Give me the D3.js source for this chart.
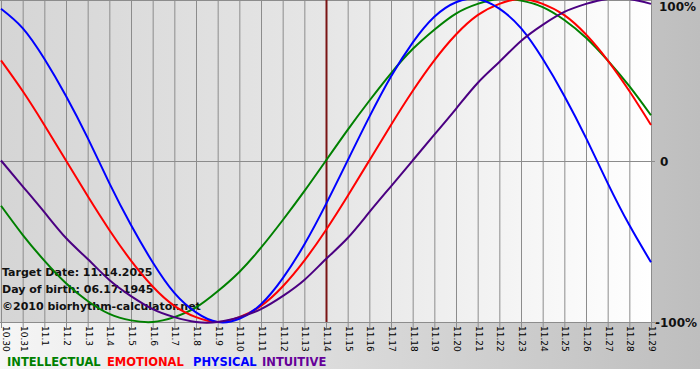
<!DOCTYPE html>
<html>
<head>
<meta charset="utf-8">
<script src="https://cdn.jsdelivr.net/npm/d3@7"></script>
<style>
  body { margin: 0; background: #ffffff; }
  svg { display: block; font-family: "DejaVu Sans", Verdana, sans-serif; }
</style>
</head>
<body>
<div id="chart"></div>
<script>
// days shown on the x axis
const days = ['10.30','10.31','11.1','11.2','11.3','11.4','11.5','11.6','11.7','11.8','11.9','11.10',
              '11.11','11.12','11.13','11.14','11.15','11.16','11.17','11.18','11.19','11.20','11.21',
              '11.22','11.23','11.24','11.25','11.26','11.27','11.28','11.29'];

// cycle values per day, -1 .. 1
const intellectual = [-0.28,-0.46,-0.62,-0.76,-0.87,-0.95,-0.99,-1.00,-0.97,-0.91,-0.81,-0.69,-0.54,-0.37,-0.19,
                      0.00,0.19,0.37,0.54,0.69,0.81,0.91,0.97,1.00,0.99,0.95,0.87,0.76,0.62,0.46,0.28];
const emotional = [0.62,0.43,0.22,0.00,-0.22,-0.43,-0.62,-0.78,-0.90,-0.97,-1.00,-0.97,-0.90,-0.78,-0.62,
                   -0.43,-0.22,0.00,0.22,0.43,0.62,0.78,0.90,0.97,1.00,0.97,0.90,0.78,0.62,0.43,0.22];
const physical = [0.94,0.82,0.63,0.40,0.14,-0.14,-0.40,-0.63,-0.82,-0.94,-1.00,-0.98,-0.89,-0.73,-0.52,
                  -0.27,0.00,0.27,0.52,0.73,0.89,0.98,1.00,0.94,0.82,0.63,0.40,0.14,-0.14,-0.40,-0.63];
const intuitive = [0.00,-0.16,-0.32,-0.48,-0.61,-0.74,-0.84,-0.92,-0.97,-1.00,-1.00,-0.97,-0.92,-0.84,-0.74,
                   -0.61,-0.48,-0.32,-0.16,0.00,0.16,0.32,0.48,0.61,0.74,0.84,0.92,0.97,1.00,1.00,0.97];

const seriesNames = ['INTELLECTUAL','EMOTIONAL','PHYSICAL','INTUITIVE'];
const seriesColors = ['#008000','#ff0000','#0000ff','#4b0082'];
const legendColors = ['#008000','#ff0000','#0000ff','#660099'];
const targetDay = '11.14';
const yTicks = [1, 0, -1];
const yTickLabels = ['100%','0','-100%'];
const infoLines = ['Target Date: 11.14.2025','Day of birth: 06.17.1945','\u00a92010 biorhythm-calculator.net'];

const width = 700, height = 380;
const plotLeft = 1, plotRight = 651, plotTop = -1, plotBottom = 322;

const svg = d3.select('#chart').append('svg')
    .attr('width', width)
    .attr('height', height);

const defs = svg.append('defs');

// outer frame: light on the left, grey on the right
const outerGrad = defs.append('linearGradient').attr('id','outerGrad')
    .attr('x1','0%').attr('x2','100%').attr('y1','0%').attr('y2','0%');
outerGrad.append('stop').attr('offset','0%').attr('stop-color','#f6f6f6');
outerGrad.append('stop').attr('offset','100%').attr('stop-color','#bebebe');

// plot area: grey on the left, white on the right
const plotGrad = defs.append('linearGradient').attr('id','plotGrad')
    .attr('x1','0%').attr('x2','100%').attr('y1','0%').attr('y2','0%');
plotGrad.append('stop').attr('offset','0%').attr('stop-color','#d5d5d5');
plotGrad.append('stop').attr('offset','50%').attr('stop-color','#e6e6e6');
plotGrad.append('stop').attr('offset','100%').attr('stop-color','#ffffff');

svg.append('rect')
    .attr('x',0).attr('y',0)
    .attr('width',width).attr('height',369)
    .style('fill','url(#outerGrad)');

const scaleX = d3.scalePoint().domain(days).range([plotLeft, plotRight]);
const scaleY = d3.scaleLinear().domain([-1, 1]).range([plotBottom, plotTop]);

svg.append('rect')
    .attr('x', 0).attr('y', 0)
    .attr('width', plotRight)
    .attr('height', plotBottom)
    .style('fill','url(#plotGrad)');

// vertical day grid + ticks
svg.append('g').selectAll('line')
    .data(days)
    .enter()
    .append('line')
    .attr('x1', d=>scaleX(d)+0.5).attr('x2', d=>scaleX(d)+0.5)
    .attr('y1', 0).attr('y2', plotBottom+6)
    .style('stroke','#8c8c8c')
    .style('stroke-width',1);

// top, zero and bottom lines
svg.append('line')
    .attr('x1',0).attr('x2',plotRight)
    .attr('y1',0.5).attr('y2',0.5)
    .style('stroke','#8c8c8c');

svg.append('g').selectAll('line')
    .data([0, -1])
    .enter()
    .append('line')
    .attr('x1',0).attr('x2',plotRight+4)
    .attr('y1',d=>Math.round(scaleY(d))+0.5).attr('y2',d=>Math.round(scaleY(d))+0.5)
    .style('stroke','#8c8c8c');

// target date marker
svg.append('line')
    .attr('x1', scaleX(targetDay)+0.5).attr('x2', scaleX(targetDay)+0.5)
    .attr('y1', 0).attr('y2', plotBottom)
    .style('stroke','#7a1414')
    .style('stroke-width',2);

// info text
svg.append('g').selectAll('text')
    .data(infoLines)
    .enter()
    .append('text')
    .attr('x', 2)
    .attr('y', (d,i)=>276 + i*17)
    .style('font-size','11px')
    .style('font-weight','bold')
    .style('fill','#111111')
    .text(d=>d);

// biorhythm curves
const allSeries = [intellectual, emotional, physical, intuitive];
const line = d3.line()
    .x((d,i)=>scaleX(days[i]))
    .y(d=>scaleY(d))
    .curve(d3.curveNatural);

svg.append('g').selectAll('path')
    .data(allSeries)
    .enter()
    .append('path')
    .attr('d', line)
    .style('fill','none')
    .style('stroke',(d,i)=>seriesColors[i])
    .style('stroke-width',2);

// x labels, rotated
const xAxis = d3.axisBottom(scaleX).tickSize(0).tickPadding(0);
const xAxisGroup = svg.append('g')
    .attr('transform','translate(0.5,' + (plotBottom+4) + ')')
    .call(xAxis);
xAxisGroup.select('.domain').remove();
xAxisGroup.selectAll('text')
    .attr('transform','rotate(90)')
    .attr('x', 0)
    .attr('y', (d,i)=>i === 0 ? -4 : 0)
    .attr('dy','0.35em')
    .style('text-anchor','start')
    .style('font-family','"DejaVu Sans", Verdana, sans-serif')
    .style('font-size','9px')
    .style('fill','#000000');

// right axis labels
const yAxis = d3.axisRight(scaleY).tickValues(yTicks).tickSize(0).tickPadding(0)
    .tickFormat((d,i)=>yTickLabels[i]);
const yAxisGroup = svg.append('g')
    .attr('transform','translate(' + (plotRight+8) + ',0)')
    .call(yAxis);
yAxisGroup.select('.domain').remove();
yAxisGroup.selectAll('text')
    .attr('dy','0.4em')
    .attr('x', (d)=>d === -1 ? -4 : (d === 0 ? 1 : 0))
    .style('font-family','"DejaVu Sans", Verdana, sans-serif')
    .style('font-size','12px')
    .style('font-weight','bold')
    .style('fill','#111111');
yAxisGroup.selectAll('.tick').filter(d=>d===1).attr('transform','translate(0,6)');

// legend
const legendX = [7, 107, 193, 262];
svg.append('g').selectAll('text')
    .data(seriesNames)
    .enter()
    .append('text')
    .attr('x',(d,i)=>legendX[i])
    .attr('y',366)
    .style('font-size','11.5px')
    .style('font-weight','bold')
    .style('fill',(d,i)=>legendColors[i])
    .text(d=>d);
</script>
</body>
</html>
